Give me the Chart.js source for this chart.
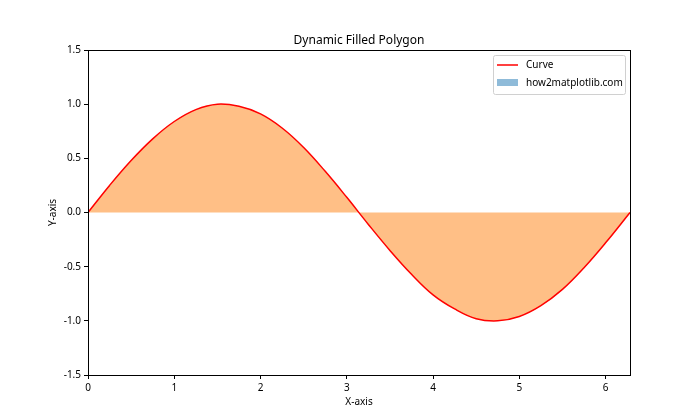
<!DOCTYPE html>
<html>
<head>
<meta charset="utf-8">
<script src="https://cdn.jsdelivr.net/npm/chart.js@4"></script>
<style>
  html, body { margin: 0; padding: 0; background: #fff; }
  #wrap { width: 700px; height: 420px; }
</style>
</head>
<body>
<div id="wrap"><canvas id="myChart" width="700" height="420"></canvas></div>
<script>
// values
const xValues = [0, 0.25, 0.5, 0.75, 1.0, 1.25, 1.5, 1.75, 2.0, 2.25, 2.5, 2.75, 3.0, 3.25,
  3.5, 3.75, 4.0, 4.25, 4.5, 4.75, 5.0, 5.25, 5.5, 5.75, 6.0, 6.283];
const yValues = [0, 0.25, 0.48, 0.68, 0.84, 0.95, 1.0, 0.98, 0.91, 0.78, 0.6, 0.38, 0.14, -0.11,
  -0.35, -0.57, -0.76, -0.89, -0.98, -1.0, -0.96, -0.86, -0.71, -0.51, -0.28, 0];
const xTicks = [0, 1, 2, 3, 4, 5, 6];
const yTicks = [-1.5, -1.0, -0.5, 0.0, 0.5, 1.0, 1.5];

const chartTitle = "Dynamic Filled Polygon";
const xLabel = "X-axis";
const yLabel = "Y-axis";
const legendLabels = ["Curve", "how2matplotlib.com"];

const FONT = "'Noto Sans', 'DejaVu Sans', sans-serif";

const points = xValues.map((x, i) => ({ x: x, y: yValues[i] }));

// title, axis titles, frame and legend drawn on top
const decor = {
  id: 'decor',
  afterDraw(chart) {
    const c = chart.ctx;
    const a = chart.chartArea;
    c.save();
    c.strokeStyle = '#000';
    c.lineWidth = 1;
    c.strokeRect(Math.round(a.left) + 0.5, Math.round(a.top) + 0.5,
      Math.round(a.right - a.left), Math.round(a.bottom - a.top));

    c.fillStyle = '#000';
    c.font = "12px " + FONT;
    c.textAlign = 'center';
    c.textBaseline = 'alphabetic';
    c.fillText(chartTitle, (a.left + a.right) / 2, a.top - 6);

    c.font = "10px " + FONT;
    c.fillText(xLabel, (a.left + a.right) / 2, 405);
    c.save();
    c.translate(56, (a.top + a.bottom) / 2);
    c.rotate(-Math.PI / 2);
    c.fillText(yLabel, 0, 0);
    c.restore();

    // legend box
    const lx = 493, ly = 55, lw = 132, lh = 39;
    c.fillStyle = 'rgba(255,255,255,0.8)';
    c.strokeStyle = '#d0d0d0';
    c.beginPath();
    c.roundRect(lx + 0.5, ly + 0.5, lw, lh, 2);
    c.fill();
    c.stroke();

    c.strokeStyle = '#ff0000';
    c.lineWidth = 1.5;
    c.beginPath();
    c.moveTo(497, 65);
    c.lineTo(518, 65);
    c.stroke();

    c.fillStyle = 'rgba(31,119,180,0.5)';
    c.fillRect(497, 79, 21, 7);

    c.fillStyle = '#000';
    c.font = "10px " + FONT;
    c.textAlign = 'left';
    c.textBaseline = 'middle';
    c.fillText(legendLabels[0], 526, 65);
    c.fillText(legendLabels[1], 526, 83);
    c.restore();
  }
};

const ctx = document.getElementById("myChart").getContext("2d");

let chart = new Chart(ctx, {
  type: 'line',
  data: {
    datasets: [{
      label: legendLabels[0],
      data: points,
      borderColor: '#ff0000',
      borderWidth: 1.5,
      backgroundColor: 'rgba(255,127,14,0.5)',
      fill: 'origin',
      pointRadius: 0,
      tension: 0.4
    }]
  },
  options: {
    responsive: false,
    animation: false,
    layout: { padding: { left: 0, right: 70, top: 50, bottom: 0 } },
    plugins: {
      legend: { display: false },
      title: { display: false },
      tooltip: { enabled: false }
    },
    scales: {
      x: {
        type: 'linear',
        min: 0,
        max: 6.283,
        afterFit: s => { s.height = 45; },
        afterBuildTicks: s => { s.ticks = xTicks.map(v => ({ value: v })); },
        grid: { display: true, drawOnChartArea: false, tickLength: 4, color: '#000' },
        border: { display: true, color: '#000' },
        ticks: {
          color: '#000',
          padding: 3,
          maxRotation: 0,
          font: { size: 10, family: FONT },
          callback: v => String(v)
        }
      },
      y: {
        min: -1.5,
        max: 1.5,
        afterFit: s => { s.width = 88; },
        afterBuildTicks: s => { s.ticks = yTicks.map(v => ({ value: v })); },
        grid: { display: true, drawOnChartArea: false, tickLength: 4, color: '#000' },
        border: { display: true, color: '#000' },
        ticks: {
          color: '#000',
          padding: 3,
          font: { size: 10, family: FONT },
          callback: v => v.toFixed(1)
        }
      }
    }
  },
  plugins: [decor]
});
</script>
</body>
</html>
